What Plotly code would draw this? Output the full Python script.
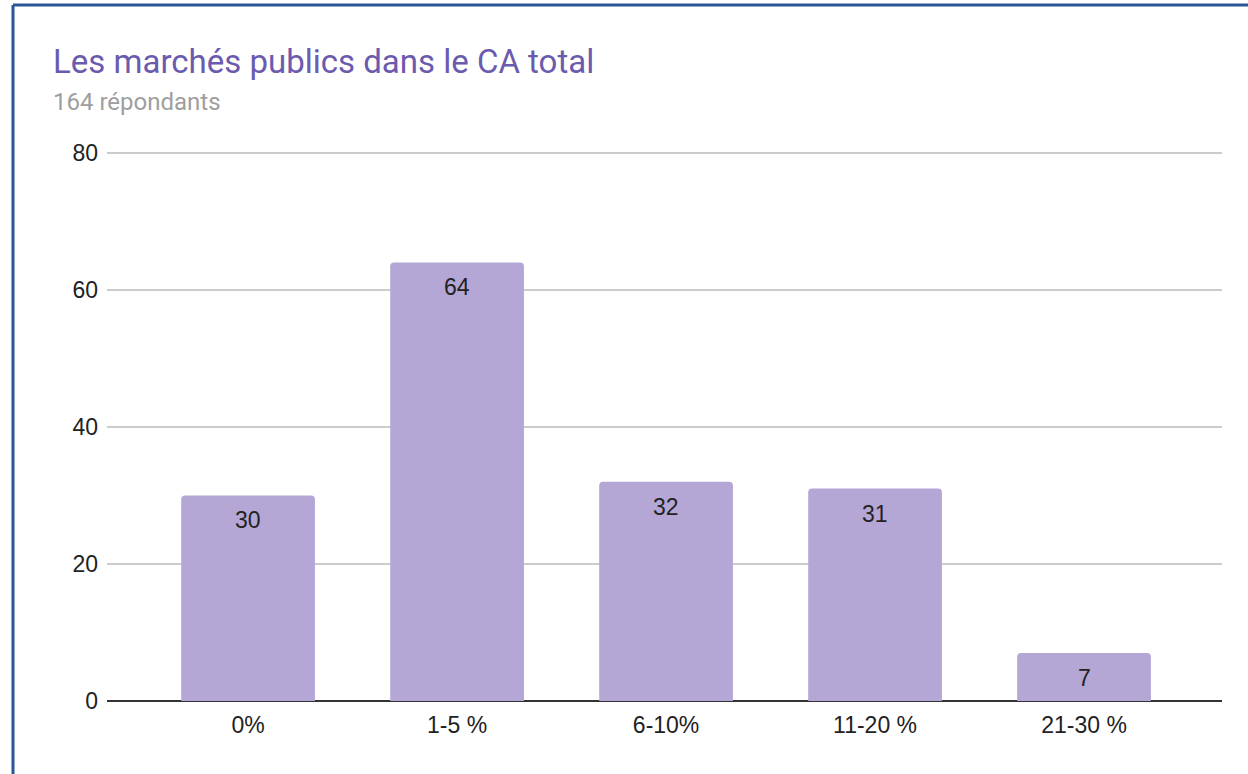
import plotly.graph_objects as go

categories = ["0%", "1-5 %", "6-10%", "11-20 %", "21-30 %"]
values = [30, 64, 32, 31, 7]
title_text = "Les marchés publics dans le CA total"
subtitle_text = "164 répondants"
y_ticks = [0, 20, 40, 60, 80]

W, H = 1248, 774
L, R, T, B = 107, 26, 146, 73
pw, ph = W - L - R, H - T - B

def px_x(x):
    return (x - L) / pw

def px_y(y):
    return (H - B - y) / ph

xs = list(range(len(categories)))

fig = go.Figure(go.Bar(
    x=xs,
    y=values,
    marker=dict(color="#B4A7D6", line=dict(width=0), cornerradius=4),
    width=0.64,
    hoverinfo="skip",
))

label_annotations = [
    dict(x=xi, y=v, xref="x", yref="y", text=str(v), showarrow=False,
         yanchor="top", yshift=-10,
         font=dict(family="Liberation Sans, Arial", size=23, color="#222222"))
    for xi, v in zip(xs, values)
]

fig.update_layout(
    width=W, height=H,
    margin=dict(l=L, r=R, t=T, b=B),
    paper_bgcolor="white",
    plot_bgcolor="white",
    showlegend=False,
    xaxis=dict(
        range=[-0.675, 4.66],
        tickmode="array",
        tickvals=xs,
        ticktext=categories,
        showgrid=False,
        zeroline=False,
        showline=False,
        ticks="",
        tickfont=dict(family="Liberation Sans, Arial", size=23, color="#222222"),
        ticklabelstandoff=8,
    ),
    yaxis=dict(
        range=[0, 81],
        tickmode="array",
        tickvals=y_ticks,
        showgrid=True,
        gridcolor="#CCCCCC",
        gridwidth=1.5,
        zeroline=True,
        zerolinecolor="#333333",
        zerolinewidth=2,
        ticks="",
        tickfont=dict(family="Liberation Sans, Arial", size=23, color="#222222"),
        ticklabelstandoff=8,
    ),
    annotations=label_annotations + [
        dict(text=title_text, xref="paper", yref="paper",
             x=px_x(51), y=px_y(61), xanchor="left", yanchor="middle",
             showarrow=False,
             font=dict(family="Roboto", size=33, color="#6B5BAE")),
        dict(text=subtitle_text, xref="paper", yref="paper",
             x=px_x(51), y=px_y(102), xanchor="left", yanchor="middle",
             showarrow=False,
             font=dict(family="Roboto", size=24, color="#9E9E9E")),
    ],
    shapes=[
        dict(type="line", xref="paper", yref="paper",
             x0=px_x(13), x1=px_x(W), y0=px_y(5), y1=px_y(5),
             line=dict(color="#2B5797", width=3)),
        dict(type="line", xref="paper", yref="paper",
             x0=px_x(13), x1=px_x(13), y0=px_y(5), y1=px_y(H),
             line=dict(color="#2B5797", width=3)),
    ],
)

fig.write_html("out.html", config={"displayModeBar": False},
               post_script="document.body.style.margin='0';document.body.style.overflow='hidden';")
